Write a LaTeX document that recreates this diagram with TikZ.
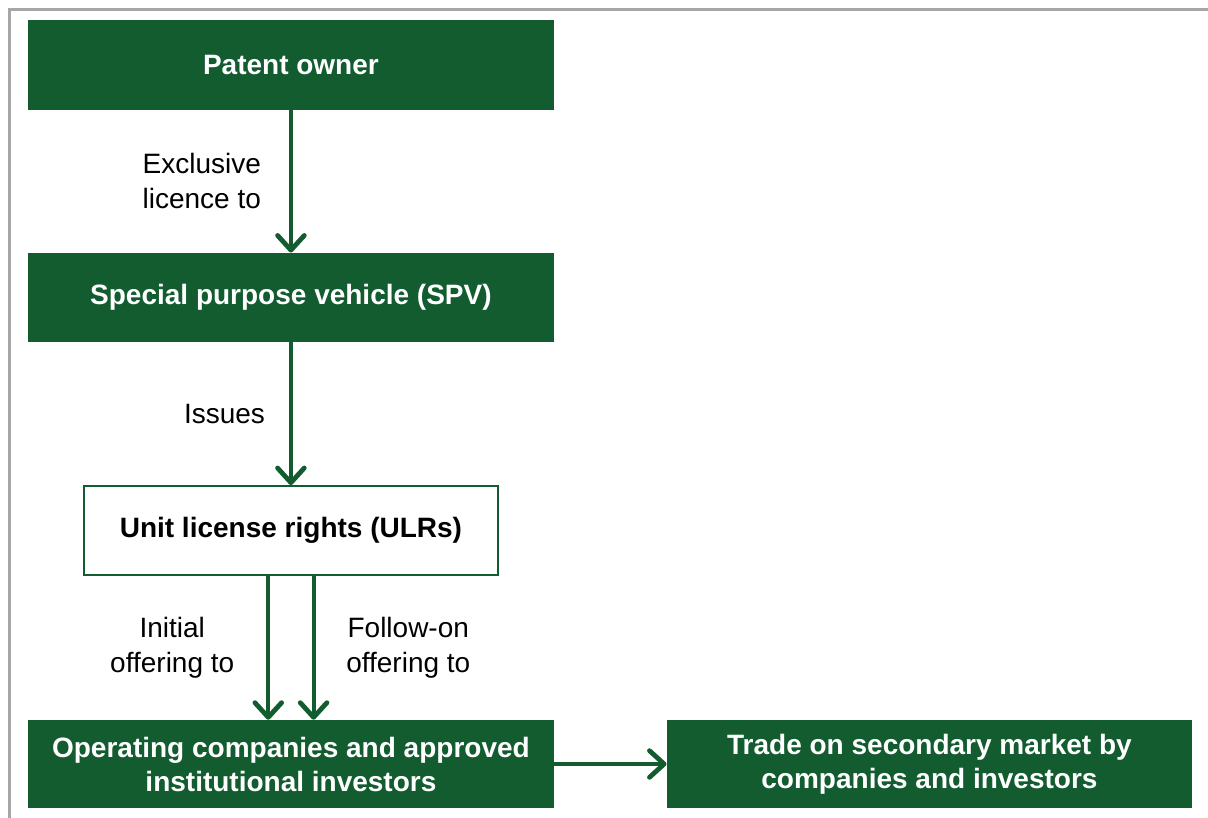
\documentclass[tikz,border=0pt]{standalone}
\usepackage{fontspec}
\setmainfont{Liberation Sans}
\usetikzlibrary{positioning, arrows.meta}
\definecolor{darkgreen}{RGB}{18,92,48}
\definecolor{framegray}{RGB}{166,166,166}

\begin{document}
\begin{tikzpicture}[
    box/.style={rectangle, fill=darkgreen, text=white, font=\fontsize{21}{25.5}\selectfont\bfseries, minimum width=394pt, minimum height=67pt, align=center, inner sep=0pt},
    ulrbox/.style={box, draw=darkgreen, fill=white, text=black, line width=1.5pt, minimum width=311pt},
    lbl/.style={text=black, font=\fontsize{21}{26}\selectfont, align=center, inner sep=0pt},
    arr/.style={-{Straight Barb[length=11pt, width=20pt, line width=3.6pt, round]}, line width=3pt, darkgreen}
]
    \useasboundingbox (0,0) rectangle (906pt,-613.5pt);
    \draw[framegray, line width=2.25pt] (7pt,-613.5pt) |- (906pt,-6.75pt);

    \node[box, anchor=north west] (owner) at (21pt,-15pt) {Patent owner};
    \node[box] (spv) [below=107pt of owner] {Special purpose vehicle (SPV)};
    \node[ulrbox] (ulr) [below=107pt of spv] {Unit license rights (ULRs)};
    \node[box, minimum height=66pt] (oper) [below=107.5pt of ulr] {Operating companies and approved\\institutional investors};
    \node[box, minimum height=66pt] (trade) [right=84.5pt of oper] {Trade on secondary market by\\companies and investors};

    \draw[arr] (owner) -- node[lbl, left=21pt] {Exclusive\\licence to} (spv);
    \draw[arr] (spv) -- node[lbl, left=18pt] {Issues} (ulr);
    \draw[arr] ([xshift=-17pt]ulr.south) -- node[lbl, left=24pt] {Initial\\offering to} ([xshift=-17pt]ulr.south |- oper.north);
    \draw[arr] ([xshift=17pt]ulr.south) -- node[lbl, right=23pt] {Follow-on\\offering to} ([xshift=17pt]ulr.south |- oper.north);
    \draw[arr] (oper) -- (trade);
\end{tikzpicture}
\end{document}
